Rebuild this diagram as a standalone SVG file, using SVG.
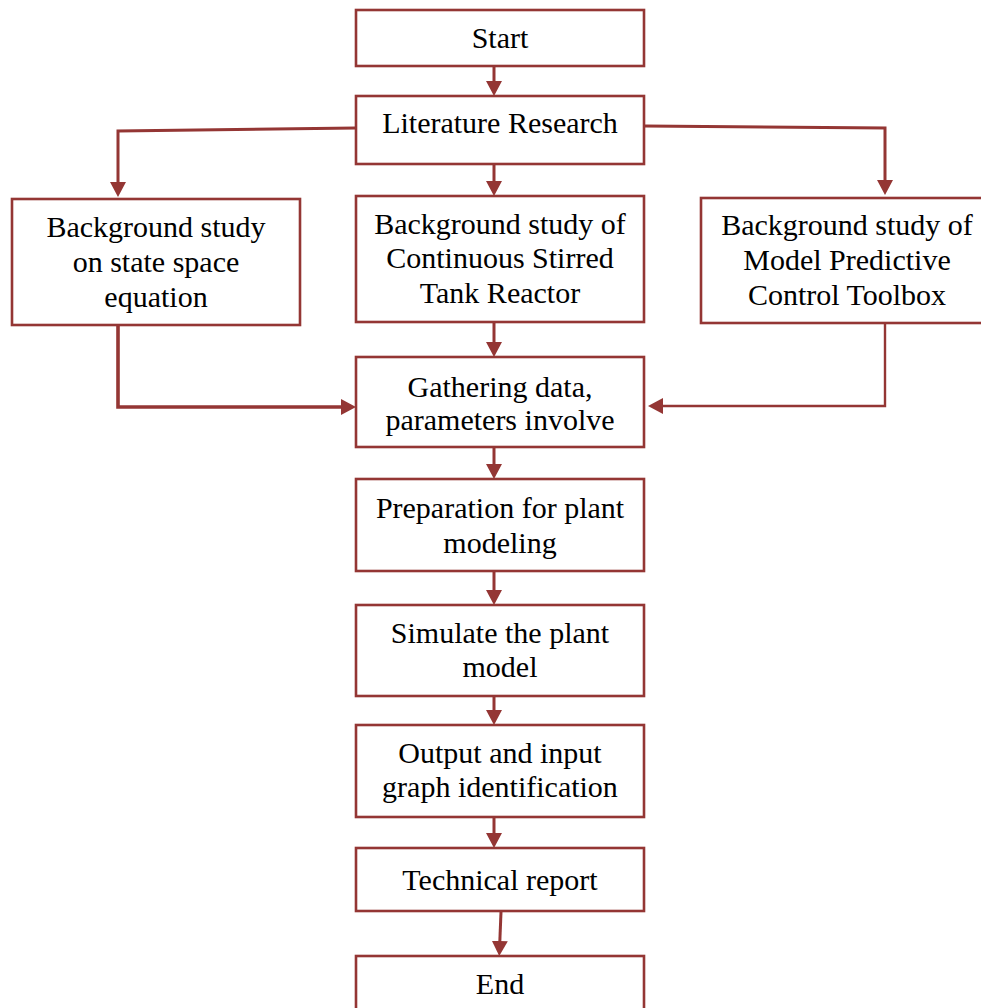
<svg xmlns="http://www.w3.org/2000/svg" width="981" height="1008" viewBox="0 0 981 1008">
  <defs>
    <style>
      .box { fill: #ffffff; stroke: #943634; stroke-width: 2.6; }
      .lbl { font-family: "Liberation Serif", "Times New Roman", serif; font-size: 30px; fill: #000000; text-anchor: middle; }
      .wire { fill: none; stroke: #943634; stroke-width: 3; stroke-linejoin: miter; }
      .thick { stroke-width: 3.6; }
      .thin { stroke-width: 2.4; }
    </style>
    <marker id="head" viewBox="0 0 15 16" markerWidth="15" markerHeight="16" markerUnits="userSpaceOnUse" refX="11" refY="8" orient="auto">
      <path d="M0,0 L15,8 L0,16 z" fill="#943634"/>
    </marker>
  </defs>
  <rect width="981" height="1008" fill="#ffffff"/>

  <!-- connectors -->
  <g id="connectors">
    <line class="wire" x1="494" y1="67" x2="494" y2="92" marker-end="url(#head)"/>
    <path class="wire" d="M356,128 L118,131 L118,193" marker-end="url(#head)"/>
    <line class="wire" x1="494" y1="165" x2="494" y2="192" marker-end="url(#head)"/>
    <path class="wire" d="M645,126 L885,128 L885,191" marker-end="url(#head)"/>
    <path class="wire thick" d="M118,326 L118,407 L352,407" marker-end="url(#head)"/>
    <line class="wire" x1="494" y1="323" x2="494" y2="353" marker-end="url(#head)"/>
    <path class="wire thin" d="M885,324 L885,406 L652,406" marker-end="url(#head)"/>
    <line class="wire" x1="494" y1="448" x2="494" y2="475" marker-end="url(#head)"/>
    <line class="wire" x1="494" y1="572" x2="494" y2="601" marker-end="url(#head)"/>
    <line class="wire" x1="494" y1="697" x2="494" y2="721" marker-end="url(#head)"/>
    <line class="wire" x1="494" y1="818" x2="494" y2="844" marker-end="url(#head)"/>
    <line class="wire" x1="501" y1="912" x2="499.4" y2="952" marker-end="url(#head)"/>
  </g>

  <g id="start">
    <rect class="box" x="356" y="10" width="288" height="56"/>
    <text class="lbl" x="500" y="48">Start</text>
  </g>

  <g id="literature">
    <rect class="box" x="356" y="96" width="288" height="68"/>
    <text class="lbl" x="500" y="133">Literature Research</text>
  </g>

  <g id="state-space">
    <rect class="box" x="12" y="199" width="288" height="126"/>
    <text class="lbl" x="156" y="237">Background study</text>
    <text class="lbl" x="156" y="272">on state space</text>
    <text class="lbl" x="156" y="307">equation</text>
  </g>

  <g id="cstr">
    <rect class="box" x="356" y="196" width="288" height="126"/>
    <text class="lbl" x="500" y="234">Background study of</text>
    <text class="lbl" x="500" y="268">Continuous Stirred</text>
    <text class="lbl" x="500" y="303">Tank Reactor</text>
  </g>

  <g id="mpc">
    <rect class="box" x="701" y="198" width="294" height="125"/>
    <text class="lbl" x="847" y="235">Background study of</text>
    <text class="lbl" x="847" y="270">Model Predictive</text>
    <text class="lbl" x="847" y="305">Control Toolbox</text>
  </g>

  <g id="gathering">
    <rect class="box" x="356" y="357" width="288" height="90"/>
    <text class="lbl" x="500" y="397">Gathering data,</text>
    <text class="lbl" x="500" y="430">parameters involve</text>
  </g>

  <g id="preparation">
    <rect class="box" x="356" y="479" width="288" height="92"/>
    <text class="lbl" x="500" y="518">Preparation for plant</text>
    <text class="lbl" x="500" y="553">modeling</text>
  </g>

  <g id="simulate">
    <rect class="box" x="356" y="605" width="288" height="91"/>
    <text class="lbl" x="500" y="643">Simulate the plant</text>
    <text class="lbl" x="500" y="677">model</text>
  </g>

  <g id="identification">
    <rect class="box" x="356" y="725" width="288" height="92"/>
    <text class="lbl" x="500" y="763">Output and input</text>
    <text class="lbl" x="500" y="797">graph identification</text>
  </g>

  <g id="report">
    <rect class="box" x="356" y="848" width="288" height="63"/>
    <text class="lbl" x="500" y="890">Technical report</text>
  </g>

  <g id="end">
    <rect class="box" x="356" y="956" width="288" height="70"/>
    <text class="lbl" x="500" y="994">End</text>
  </g>
</svg>
